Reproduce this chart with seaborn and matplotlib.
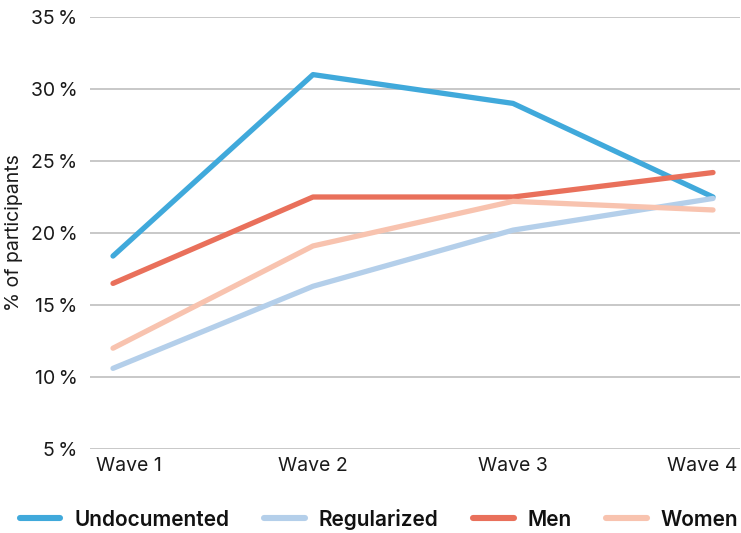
import matplotlib
matplotlib.use("Agg")
import matplotlib.pyplot as plt
import matplotlib.transforms as mtransforms
import seaborn as sns
import pandas as pd
from matplotlib.ticker import FuncFormatter

# Share of participants per survey wave, by group
waves = ["Wave 1", "Wave 2", "Wave 3", "Wave 4"]
undocumented = [18.4, 31.0, 29.0, 22.5]
regularized = [10.6, 16.3, 20.2, 22.4]
men = [16.5, 22.5, 22.5, 24.2]
women = [12.0, 19.1, 22.2, 21.6]

groups = ["Undocumented", "Regularized", "Men", "Women"]
series = [undocumented, regularized, men, women]
palette = {
    "Undocumented": "#40A9DB",
    "Regularized": "#B4CFEA",
    "Men": "#E9705B",
    "Women": "#F8C3AF",
}

df = pd.DataFrame(
    [(w, g, v) for g, vals in zip(groups, series) for w, v in zip(waves, vals)],
    columns=["wave", "group", "share"],
)

sns.set_theme(style="white")
plt.rcParams["font.family"] = ["Inter", "DejaVu Sans"]

fig = plt.figure(figsize=(7.41, 5.33), dpi=100)
ax = fig.add_axes([90 / 741, 1 - 449 / 533, 650 / 741, 432 / 533])

sns.lineplot(
    data=df, x="wave", y="share", hue="group", hue_order=groups,
    palette=palette, linewidth=3.8, ax=ax, legend=False,
    solid_capstyle="round", sort=False,
)

ax.set_ylim(5, 35)
ax.set_xlim(-0.115, 3.135)
ax.set_yticks(range(5, 36, 5))
ax.yaxis.set_major_formatter(FuncFormatter(lambda v, _: f"{int(v)}\u2009%"))
ax.grid(axis="y", color="#C8C8C8", linewidth=1.4)
ax.grid(axis="x", visible=False)
ax.set_axisbelow(True)
for s in ax.spines.values():
    s.set_visible(False)

ax.tick_params(axis="y", labelsize=14, pad=9, length=0, labelcolor="#1a1a1a")
ax.tick_params(axis="x", labelsize=14, pad=6, length=0, labelcolor="#1a1a1a")

# Keep the outer wave labels inside the plot width
fig.canvas.draw()
labels = ax.get_xticklabels()
labels[0].set_transform(labels[0].get_transform()
                        + mtransforms.ScaledTranslation(16 / 100, 0, fig.dpi_scale_trans))
labels[-1].set_transform(labels[-1].get_transform()
                         + mtransforms.ScaledTranslation(-11 / 100, 0, fig.dpi_scale_trans))

ax.set_xlabel("")
ax.set_ylabel("% of participants", fontsize=14, color="#1a1a1a")
ax.yaxis.set_label_coords(-0.103, 0.5)

# Legend along the bottom edge
handles = [
    plt.Line2D([], [], color=palette[g], linewidth=4.4, solid_capstyle="round")
    for g in groups
]
fig.legend(
    handles, groups, loc="center", bbox_to_anchor=(379 / 741, 14 / 533),
    ncol=4, frameon=False, prop={"size": 15, "weight": "semibold"},
    handlelength=1.95, handletextpad=0.65, columnspacing=1.68,
    labelcolor="#111111",
)

fig.savefig("out.png", dpi=100)
